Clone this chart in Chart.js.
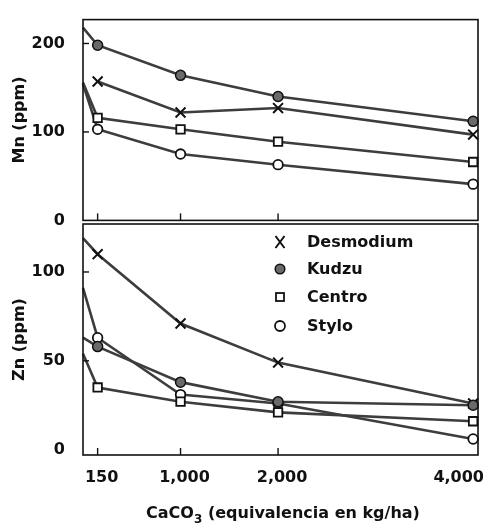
<!DOCTYPE html>
<html>
<head>
<meta charset="utf-8">
<script src="https://cdn.jsdelivr.net/npm/chart.js@4.4.0/dist/chart.umd.min.js"></script>
<style>
html,body{margin:0;padding:0;background:#fff;}
#wrap{position:relative;width:487px;height:524px;overflow:hidden;background:#fff;}
#wrap canvas{position:absolute;left:0;}
#mnChart{top:0;}
#znChart{top:200px;}
</style>
</head>
<body>
<div id="wrap">
  <canvas id="mnChart" width="487" height="240"></canvas>
  <canvas id="znChart" width="487" height="324"></canvas>
</div>
<script>
// doses of CaCO3 (kg/ha); 0 = starting point on the left edge
const doses = [0, 150, 1000, 2000, 4000];
const doseTicks = [150, 1000, 2000, 4000];
const doseLabels = ['150', '1,000', '2,000', '4,000'];

// Mn (ppm)
const mnDesmodium = [null, 157, 122, 127, 97];
const mnKudzu = [218, 198, 164, 140, 112];
const mnCentro = [156, 116, 103, 89, 66];
const mnStylo = [154, 103, 75, 63, 41];
const mnTicks = [0, 100, 200];

// Zn (ppm)
const znDesmodium = [119, 110, 71, 49, 26];
const znKudzu = [63, 58, 38, 27, 25];
const znCentro = [54, 35, 27, 21, 16];
const znStylo = [91, 63, 31, 26, 6];
const znTicks = [0, 50, 100];

const legendNames = ['Desmodium', 'Kudzu', 'Centro', 'Stylo'];

const FONT = '"DejaVu Sans", "Liberation Sans", Arial, sans-serif';
const INK = '#111';
const LINE = '#3d3d3d';

const marks = {
  Desmodium: {pointStyle:'crossRot', r:7, bg:INK, bw:2},
  Kudzu: {pointStyle:'circle', r:5, bg:'#6a6a6a', bw:1.5},
  Centro: {pointStyle:'rect', r:6, bg:'#fff', bw:1.8},
  Stylo: {pointStyle:'circle', r:4.8, bg:'#fff', bw:1.8}
};

function series(name, vals){
  const m = marks[name];
  return {
    label: name,
    data: doses.map((d,i)=>({x:d, y:vals[i]})),
    borderColor: LINE, borderWidth: 2.6, tension: 0, spanGaps: false,
    pointStyle: m.pointStyle,
    pointRadius: doses.map(d=> d===0 ? 0 : m.r),
    pointBackgroundColor: m.bg, pointBorderColor: INK, pointBorderWidth: m.bw,
    clip: 4
  };
}

function drawMark(ctx, name, x, y){
  ctx.save();
  ctx.strokeStyle = INK; ctx.lineWidth = 1.8;
  if(name==='Desmodium'){
    ctx.lineWidth = 2;
    ctx.beginPath();
    ctx.moveTo(x-4.5,y-6); ctx.lineTo(x+4.5,y+6);
    ctx.moveTo(x+4.5,y-6); ctx.lineTo(x-4.5,y+6);
    ctx.stroke();
  } else if(name==='Kudzu'){
    ctx.fillStyle = '#6a6a6a'; ctx.lineWidth = 1.5;
    ctx.beginPath(); ctx.arc(x,y,4.8,0,Math.PI*2); ctx.fill(); ctx.stroke();
  } else if(name==='Centro'){
    ctx.fillStyle = '#fff';
    ctx.fillRect(x-4,y-4,8,8); ctx.strokeRect(x-4,y-4,8,8);
  } else {
    ctx.fillStyle = '#fff';
    ctx.beginPath(); ctx.arc(x,y,5,0,Math.PI*2); ctx.fill(); ctx.stroke();
  }
  ctx.restore();
}

// frame, inward ticks, and (bottom panel) legend + x labels + x title
const framePlugin = {
  id: 'frame',
  afterDraw(chart, args, o){
    const {ctx, chartArea:a, scales:{x, y}} = chart;
    ctx.save();
    ctx.strokeStyle = INK;
    ctx.lineWidth = 1.6;
    ctx.strokeRect(a.left, a.top, a.right-a.left, a.bottom-a.top);
    ctx.lineWidth = 1.4;
    doseTicks.slice(0,3).forEach(v=>{
      const px = x.getPixelForValue(v);
      ctx.beginPath(); ctx.moveTo(px, a.bottom); ctx.lineTo(px, a.bottom-7); ctx.stroke();
    });
    o.yTicks.forEach(v=>{
      if(v===0) return;
      const py = y.getPixelForValue(v);
      ctx.beginPath(); ctx.moveTo(a.left, py); ctx.lineTo(a.left+6, py); ctx.stroke();
    });

    if(o.bottom){
      ctx.fillStyle = INK;
      // legend
      ctx.font = 'bold 16px ' + FONT;
      ctx.textAlign = 'left'; ctx.textBaseline = 'middle';
      const ly = [42, 69, 97, 126];
      legendNames.forEach((n,i)=>{
        drawMark(ctx, n, 280, ly[i]);
        ctx.fillText(n, 307, ly[i]+1);
      });
      // x tick labels
      ctx.font = 'bold 16px ' + FONT;
      ctx.textAlign = 'center';
      doseTicks.forEach((v,i)=>{
        const w = ctx.measureText(doseLabels[i]).width;
        const px = Math.min(x.getPixelForValue(v) + 4, chart.width - 3 - w/2);
        ctx.fillText(doseLabels[i], px, 278);
      });
      // x title with subscript
      const t1 = 'CaCO', t2 = '3', t3 = ' (equivalencia en kg/ha)';
      ctx.textAlign = 'left'; ctx.textBaseline = 'alphabetic';
      ctx.font = 'bold 16px ' + FONT;
      const w1 = ctx.measureText(t1).width, w3 = ctx.measureText(t3).width;
      ctx.font = 'bold 12px ' + FONT;
      const w2 = ctx.measureText(t2).width;
      let tx = 283 - (w1+w2+w3)/2;
      const by = 318;
      ctx.font = 'bold 16px ' + FONT;
      ctx.fillText(t1, tx, by); tx += w1;
      ctx.font = 'bold 12px ' + FONT;
      ctx.fillText(t2, tx, by+5); tx += w2;
      ctx.font = 'bold 16px ' + FONT;
      ctx.fillText(t3, tx, by);
    }
    ctx.restore();
  }
};

function makeChart(id, sets, ymin, ymax, yticks, title, pad, bottom){
  return new Chart(document.getElementById(id), {
    type: 'line',
    data: {datasets: sets},
    plugins: [framePlugin],
    options: {
      responsive: false, animation: false,
      layout: {autoPadding: false, padding: pad},
      plugins: {legend:{display:false}, tooltip:{enabled:false}, frame:{yTicks: yticks, bottom: bottom}},
      scales: {
        x: {type:'linear', min:0, max:4050, display:false},
        y: {
          type:'linear', min:ymin, max:ymax,
          afterBuildTicks: s=>{ s.ticks = yticks.map(v=>({value:v})); },
          afterFit: s=>{ s.width = 83; },
          grid: {display:false}, border: {display:false},
          ticks: {padding:10, color:INK, font:{family:FONT, size:16, weight:'bold'}},
          title: {display:true, text:title, color:INK, font:{family:FONT, size:16, weight:'bold'}, padding:{top:10, bottom:0}}
        }
      }
    }
  });
}

// Kudzu first so its filled marks sit on top
makeChart('mnChart', [
  series('Kudzu', mnKudzu), series('Desmodium', mnDesmodium),
  series('Centro', mnCentro), series('Stylo', mnStylo)
], 0, 227, mnTicks, 'Mn (ppm)', {left:0, right:9, top:12, bottom:16}, false);

makeChart('znChart', [
  series('Kudzu', znKudzu), series('Desmodium', znDesmodium),
  series('Centro', znCentro), series('Stylo', znStylo)
], -3, 127, znTicks, 'Zn (ppm)', {left:0, right:9, top:24, bottom:69}, true);
</script>
</body>
</html>
